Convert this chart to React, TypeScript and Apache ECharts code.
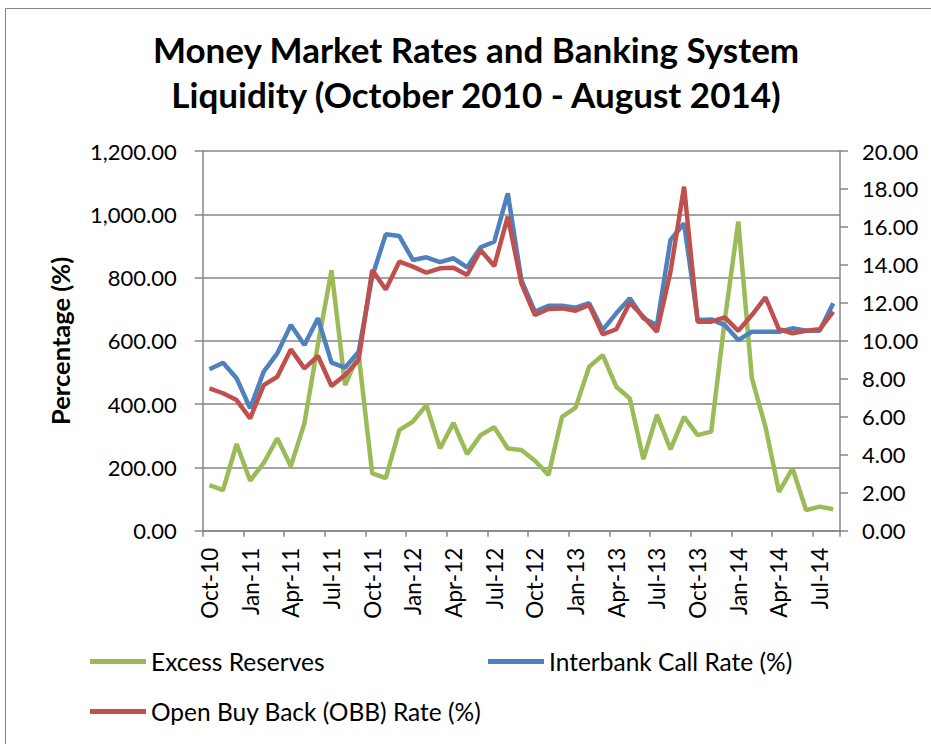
import React, { useEffect, useRef } from "react";
import * as echarts from "echarts";

const categories = [
  "Oct-10", "Nov-10", "Dec-10",
  "Jan-11", "Feb-11", "Mar-11", "Apr-11", "May-11", "Jun-11", "Jul-11", "Aug-11", "Sep-11", "Oct-11", "Nov-11", "Dec-11",
  "Jan-12", "Feb-12", "Mar-12", "Apr-12", "May-12", "Jun-12", "Jul-12", "Aug-12", "Sep-12", "Oct-12", "Nov-12", "Dec-12",
  "Jan-13", "Feb-13", "Mar-13", "Apr-13", "May-13", "Jun-13", "Jul-13", "Aug-13", "Sep-13", "Oct-13", "Nov-13", "Dec-13",
  "Jan-14", "Feb-14", "Mar-14", "Apr-14", "May-14", "Jun-14", "Jul-14", "Aug-14",
];

const excessReserves = [
  144, 128, 274, 158, 214, 292, 204, 339, 590, 823, 460, 557, 181, 166, 318,
  345, 397, 260, 341, 242, 302, 327, 260, 255, 221, 176, 360, 389, 518, 555,
  455, 418, 226, 366, 257, 360, 302, 313, 665, 977, 482, 329, 123, 197, 65, 76, 68,
];

const interbankRate = [
  8.5, 8.85, 8.03, 6.45, 8.38, 9.34, 10.83, 9.78, 11.19, 8.85, 8.59, 9.43, 13.38, 15.61, 15.52,
  14.26, 14.4, 14.15, 14.35, 13.87, 14.93, 15.22, 17.77, 13.21, 11.54, 11.85, 11.85, 11.75, 11.98, 10.57,
  11.45, 12.24, 11.19, 10.83, 15.31, 16.19, 11.1, 11.13, 10.83, 10.04, 10.48, 10.48, 10.48, 10.66, 10.53, 10.53, 11.98,
];

const obbRate = [
  7.5, 7.24, 6.88, 5.92, 7.67, 8.11, 9.55, 8.55, 9.2, 7.62, 8.2, 8.99, 13.73, 12.71, 14.17,
  13.91, 13.59, 13.82, 13.85, 13.47, 14.78, 13.94, 16.54, 13.03, 11.36, 11.68, 11.71, 11.59, 11.89, 10.34,
  10.61, 12.01, 11.27, 10.48, 13.64, 18.12, 11.01, 11.01, 11.24, 10.53, 11.36, 12.29, 10.61, 10.4, 10.53, 10.61, 11.54,
];

const leftTicks = { min: 0, max: 1200, interval: 200 };
const rightTicks = { min: 0, max: 20, interval: 2 };

const FONT = "Lato, 'Open Sans', sans-serif";
const GRAY = "#868686";

export default function App() {
  const ref = useRef<HTMLDivElement>(null);

  useEffect(() => {
    if (!ref.current) return;
    const chart = echarts.init(ref.current, undefined, { renderer: "svg" });
    const lineSeries = (name: string, data: number[], color: string, yAxisIndex: number, z: number) => ({
      name,
      type: "line",
      data,
      yAxisIndex,
      z,
      symbol: "none",
      lineStyle: { color, width: 4.5 },
      itemStyle: { color },
    });
    const legendText = { fontFamily: FONT, fontSize: 24.5, color: "#000" };
    const legendBase = { icon: "rect", itemWidth: 56, itemHeight: 5, padding: 0, textStyle: legendText };
    chart.setOption({
      animation: false,
      backgroundColor: "#fff",
      textStyle: { fontFamily: FONT },
      title: {
        text: "Money Market Rates and Banking System\nLiquidity (October 2010 - August 2014)",
        left: 471,
        top: 21,
        textAlign: "center",
        textStyle: { fontFamily: FONT, fontSize: 35, fontWeight: "bold", color: "#000", lineHeight: 45 },
      },
      graphic: [
        {
          type: "rect",
          shape: { x: 5.5, y: 8.5, width: 1000, height: 1000 },
          style: { fill: "none", stroke: GRAY, lineWidth: 1 },
          silent: true,
        },
      ],
      grid: { left: 202.7, right: 91, top: 151, bottom: 213.3, containLabel: false },
      legend: [
        { ...legendBase, data: ["Excess Reserves"], left: 90, top: 649 },
        { ...legendBase, data: ["Interbank Call Rate (%)"], left: 488, top: 649 },
        { ...legendBase, data: ["Open Buy Back (OBB) Rate (%)"], left: 90, top: 699 },
      ],
      xAxis: {
        type: "category",
        data: categories,
        boundaryGap: true,
        axisLine: { lineStyle: { color: GRAY, width: 1.5 } },
        axisTick: { show: true, interval: 2, length: 6, lineStyle: { color: GRAY, width: 1.5 } },
        axisLabel: { interval: 2, rotate: 90, fontFamily: FONT, fontSize: 22.5, color: "#000", margin: 17 },
        splitLine: { show: false },
      },
      yAxis: [
        {
          type: "value",
          ...leftTicks,
          name: "Percentage (%)",
          nameLocation: "middle",
          nameGap: 130,
          nameTextStyle: { fontFamily: FONT, fontSize: 25.5, fontWeight: "bold", color: "#000" },
          axisLine: { show: true, lineStyle: { color: GRAY, width: 1.5 } },
          axisTick: { show: true, length: 8, lineStyle: { color: GRAY, width: 1.5 } },
          axisLabel: {
            fontFamily: FONT,
            fontSize: 22,
            color: "#000",
            margin: 26,
            formatter: (v: number) => v.toLocaleString("en-US", { minimumFractionDigits: 2, maximumFractionDigits: 2 }),
          },
          splitLine: { show: true, lineStyle: { color: GRAY, width: 1.5 } },
        },
        {
          type: "value",
          ...rightTicks,
          position: "right",
          axisLine: { show: true, lineStyle: { color: GRAY, width: 1.5 } },
          axisTick: { show: true, length: 8, lineStyle: { color: GRAY, width: 1.5 } },
          axisLabel: {
            fontFamily: FONT,
            fontSize: 22,
            color: "#000",
            margin: 22,
            formatter: (v: number) => v.toFixed(2),
          },
          splitLine: { show: false },
        },
      ],
      series: [
        lineSeries("Excess Reserves", excessReserves, "#9BBB59", 0, 2),
        lineSeries("Interbank Call Rate (%)", interbankRate, "#4F81BD", 1, 3),
        lineSeries("Open Buy Back (OBB) Rate (%)", obbRate, "#C0504D", 1, 4),
      ],
    });
    return () => chart.dispose();
  }, []);

  return (
    <div
      ref={ref}
      style={{ position: "fixed", left: 0, top: 0, width: 931, height: 744, background: "#fff" }}
    />
  );
}
